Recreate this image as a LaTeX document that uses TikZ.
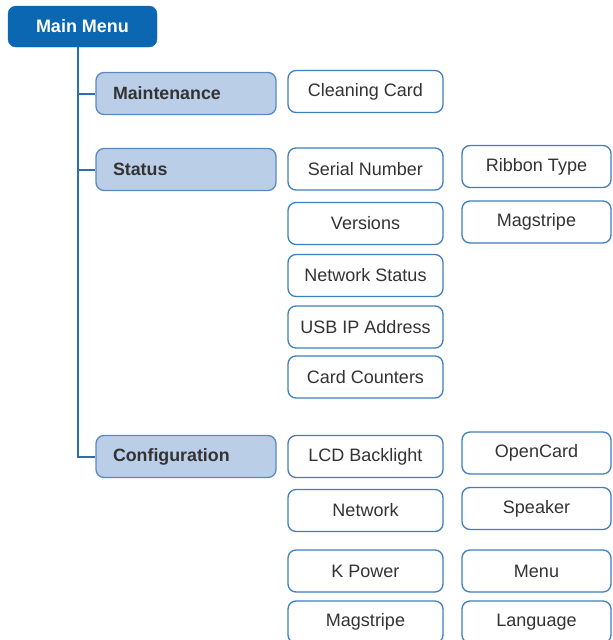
\documentclass[tikz,border=0pt]{standalone}
\usepackage{fontspec}
\setmainfont{Liberation Sans}
\definecolor{mainblue}{HTML}{0B67B2}
\definecolor{connblue}{HTML}{2C70B2}
\definecolor{catfill}{HTML}{BBCEE8}
\definecolor{catline}{HTML}{5A89C2}
\definecolor{boxline}{HTML}{3E7FC0}
\definecolor{txt}{HTML}{333333}
\begin{document}
\begin{tikzpicture}[x=1pt,y=-1pt,
  mainbox/.style={draw=mainblue,fill=mainblue,rounded corners=8pt,minimum width=149pt,minimum height=41pt,inner sep=0pt,text=white,font=\fontsize{18}{21}\selectfont\bfseries},
  catbox/.style={draw=catline,fill=catfill,line width=1.3pt,rounded corners=8pt,minimum width=180pt,minimum height=42pt,inner sep=0pt,text=txt,font=\fontsize{17.8}{21}\selectfont\bfseries,text width=146pt,align=left},
  itembox/.style={draw=boxline,fill=white,line width=1.3pt,rounded corners=8pt,minimum height=42pt,inner sep=0pt,text=txt,font=\fontsize{18}{21}\selectfont},
  colA/.style={itembox,minimum width=155pt},
  colB/.style={itembox,minimum width=149pt},
  conn/.style={draw=connblue,line width=2pt}]
\useasboundingbox (0,0) rectangle (613,640);
\coordinate (tr) at (78,0);
\node[mainbox] (mm) at (82.5,26.5) {Main Menu};
\node[catbox] (maint) at (186,93.5) {Maintenance};
\node[catbox] (stat) at (186,169.5) {Status};
\node[catbox] (conf) at (186,456.5) {Configuration};
\draw[conn] (mm.south -| tr) -- (conf.west -| tr) -- (conf.west);
\draw[conn] (maint.west -| tr) -- (maint.west);
\draw[conn] (stat.west -| tr) -- (stat.west);
\node[colA] (clean) at (365.5,91.5) {Cleaning Card};
\node[colA] (serial) at (365.5,169) {Serial Number};
\node[colA] (vers) at (365.5,223.5) {Versions};
\node[colA] (netstat) at (365.5,275.5) {Network Status};
\node[colA] (usb) at (365.5,327) {USB IP Address};
\node[colA] (count) at (365.5,377) {Card Counters};
\node[colA] (lcd) at (365.5,456.5) {LCD Backlight};
\node[colA] (net) at (365.5,510.5) {Network};
\node[colA] (kpow) at (365.5,571) {K Power};
\node[colA] (mag) at (365.5,622) {Magstripe};
\node[colB] (ribbon) at (536.5,166.5) {Ribbon Type};
\node[colB] (magB) at (536.5,222) {Magstripe};
\node[colB] (open) at (536.5,453) {OpenCard};
\node[colB] (speak) at (536.5,508.5) {Speaker};
\node[colB] (menu) at (536.5,571) {Menu};
\node[colB] (lang) at (536.5,622) {Language};
\end{tikzpicture}
\end{document}
